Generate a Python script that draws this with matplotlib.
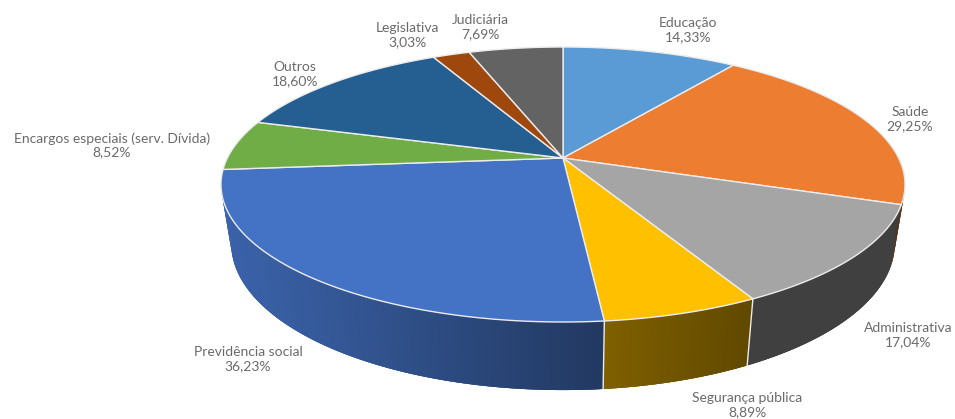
import numpy as np
import matplotlib
matplotlib.use("Agg")
import matplotlib.pyplot as plt
from matplotlib.patches import Polygon
from matplotlib.collections import PolyCollection

# Budget shares by function, clockwise from twelve o'clock
categories = ["Educação", "Saúde", "Administrativa", "Segurança pública",
              "Previdência social", "Encargos especiais (serv. Dívida)",
              "Outros", "Legislativa", "Judiciária"]
values = [14.33, 29.25, 17.04, 8.89, 36.23, 8.52, 18.60, 3.03, 7.69]
colors = ["#5B9BD5", "#ED7D31", "#A5A5A5", "#FFC000", "#4472C4",
          "#70AD47", "#255E91", "#9E480E", "#636363"]
label_x = [688, 910, 908, 747, 248, 112, 295, 407, 480]
label_y = [30, 119, 335, 405, 359, 145, 74, 35, 27]

W, H = 955, 419
CX, CY = 563.0, 158.0     # pie centre on the canvas
A, B, K = 335.6, 132.4, 0.1927   # tilt projection of the unit circle


def project_top(angle):
    """Rim point of the top face, angle clockwise from north."""
    x, y = np.sin(angle), np.cos(angle)
    w = 1 + K * y
    return CX + A * x / w, CY - B * y / w


def project_bottom(angle):
    """Rim point of the lower edge of the extruded side."""
    px, py = project_top(angle)
    return CX + 0.97 * (px - CX), py + 60 + (py - 198) * 0.065


def wall_shade(x):
    return np.interp(x, [225, 600, 605, 750, 760, 905],
                     [0.87, 0.50, 0.50, 0.38, 0.39, 0.39])


fig = plt.figure(figsize=(W / 100, H / 100), dpi=100, facecolor="white")
ax = fig.add_axes([0, 0, 1, 1])
ax.set_xlim(0, W)
ax.set_ylim(H, 0)
ax.axis("off")

fractions = np.array(values) / np.sum(values)
edges = 2 * np.pi * np.concatenate([[0], np.cumsum(fractions)])
EDGE = "#ECECEC"

# Side wall along the near half of the rim: a solid band per slice,
# then overlapping strips on top for the horizontal shading
for i, col in enumerate(colors):
    lo, hi = max(edges[i], np.radians(90)), min(edges[i + 1], np.radians(262))
    if hi <= lo:
        continue
    t = np.linspace(lo, hi, max(int((hi - lo) * 180), 4))
    tx, ty = project_top(t)
    bx, by = project_bottom(t)
    base = np.array(matplotlib.colors.to_rgb(col))
    band = np.column_stack([np.r_[tx, bx[::-1]], np.r_[ty, by[::-1]]])
    mean_tone = np.clip(base * wall_shade(tx.mean()), 0, 1)
    ax.add_patch(Polygon(band, closed=True, facecolor=mean_tone,
                         edgecolor="none", zorder=2))
    quads, shades = [], []
    for j in range(len(t) - 1):
        k = min(j + 2, len(t) - 1)
        quads.append([(tx[j], ty[j]), (tx[k], ty[k]), (bx[k], by[k]), (bx[j], by[j])])
        shades.append(np.clip(base * wall_shade((tx[j] + tx[j + 1]) / 2), 0, 1))
    ax.add_collection(PolyCollection(quads, facecolors=shades, edgecolors="none",
                                     linewidths=0, zorder=2.5))

# Slice seams running down the wall
for e in edges[1:]:
    if np.radians(115) < e < np.radians(260):
        tx, ty = project_top(e)
        bx, by = project_bottom(e)
        ax.plot([tx, bx], [ty, by], color=EDGE, lw=1.0, zorder=3)

# Top face
for i, col in enumerate(colors):
    t = np.linspace(edges[i], edges[i + 1], 120)
    px, py = project_top(t)
    pts = np.column_stack([np.r_[CX, px], np.r_[CY, py]])
    ax.add_patch(Polygon(pts, closed=True, facecolor=col, edgecolor=EDGE,
                         linewidth=1.0, joinstyle="round", zorder=4))

# Two-line labels: category name over share
for name, v, x, y in zip(categories, values, label_x, label_y):
    share = f"{v:.2f}%".replace(".", ",")
    ax.text(x, y, f"{name}\n{share}", ha="center", va="center",
            family="Lato", fontsize=10, color="#6A6A6A",
            linespacing=1.15, zorder=5)

fig.savefig("out.png", dpi=100, facecolor="white")
